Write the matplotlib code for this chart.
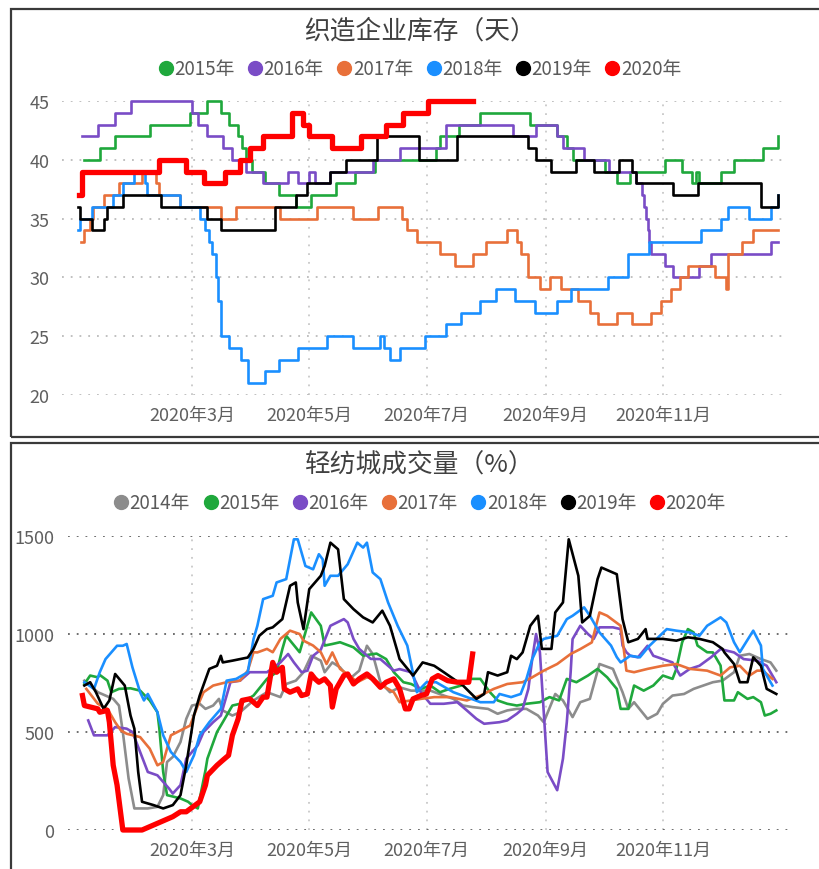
import matplotlib
matplotlib.use('Agg')
import matplotlib.pyplot as plt
from matplotlib.lines import Line2D
from matplotlib.patches import Rectangle

plt.rcParams['font.family'] = ['Noto Sans CJK SC', 'DejaVu Sans']
plt.rcParams['lines.scale_dashes'] = False

# x values are day of year 2020 (0 = 1 Jan)
month_days = [60, 121, 182, 244, 305]
month_labels = ['2020年3月', '2020年5月', '2020年7月', '2020年9月', '2020年11月']

inv_title = '织造企业库存（天）'
vol_title = '轻纺城成交量（%）'
inv_ticks = [20, 25, 30, 35, 40, 45]
vol_ticks = [0, 500, 1000, 1500]

years = ['2014年', '2015年', '2016年', '2017年', '2018年', '2019年', '2020年']
colors = ['#8c8c8c', '#1fa83c', '#7a4cc6', '#e8703a', '#1a8fff', '#000000', '#ff0000']

# ---- 织造企业库存 (days), step changes: (day, level) ----
inv_2015 = [(4, 40), (12, 41), (20, 42), (38, 43), (59, 44), (68, 45), (75, 44), (79, 43), (84, 42),
            (86, 41), (88, 40), (91, 39), (98, 38), (105, 37), (114, 36), (122, 37), (135, 38), (145, 39),
            (155, 40), (187, 41), (189, 42), (199, 43), (210, 44), (236, 43), (250, 42), (255, 41),
            (258, 40), (275, 39), (281, 38), (288, 39), (306, 40), (315, 39), (320, 38), (322, 39),
            (324, 38), (335, 39), (342, 40), (357, 41), (365, 42)]
inv_2016 = [(3, 42), (11, 43), (20, 44), (28, 45), (60, 44), (63, 43), (68, 42), (76, 41), (81, 40),
            (88, 39), (97, 38), (110, 39), (115, 38), (121, 39), (124, 38), (132, 39), (154, 40),
            (168, 41), (192, 43), (227, 42), (239, 43), (250, 42), (253, 41), (264, 40), (277, 39),
            (291, 38), (294, 37), (295, 36), (296, 35), (297, 34), (298, 33), (299, 32), (306, 31),
            (310, 30), (324, 31), (330, 32), (361, 33), (365, 33)]
inv_2017 = [(2, 33), (4, 34), (7, 35), (8.5, 36), (14, 37), (22, 38), (34, 39), (41, 38), (43, 37),
            (54, 36), (75, 35), (83, 36), (106, 35), (125, 36), (144, 35), (157, 36), (169, 35),
            (172, 34), (177, 33), (189, 32), (197, 31), (206, 32), (213, 33), (224, 34), (229, 33),
            (231, 32), (235, 30), (241, 29), (246, 30), (252, 29), (261, 28), (267, 27), (271, 26),
            (281, 27), (289, 26), (299, 27), (304, 28), (309, 29), (314, 30), (318, 31), (332, 30),
            (338, 29), (339, 32), (346, 33), (352, 34), (365, 34)]
inv_2018 = [(0.7, 34), (1.7, 35), (8, 36), (19, 37), (24, 38), (30, 39), (35.5, 38), (36.6, 37),
            (54, 36), (64, 35), (67, 34), (69, 33), (70.4, 32), (72.5, 30), (73.5, 28), (75, 25),
            (79, 24), (85.5, 23), (89, 21), (98, 22), (105, 23), (115, 24), (130, 25), (144, 24),
            (158, 25), (160, 24), (163, 23), (168, 24), (181, 25), (192, 26), (200, 27), (210, 28),
            (218, 29), (228, 28), (238.5, 27), (250, 28), (257, 29), (276.5, 30), (287, 32),
            (298, 33), (325, 34), (335, 35), (339, 36), (350, 35), (361, 36), (365, 37)]
inv_2019 = [(0.7, 36), (1.7, 35), (8, 34), (14, 35), (16, 36), (24, 37), (44, 36), (68, 35), (75, 34),
            (103, 36), (114, 37), (120, 38), (132, 39), (140, 40), (156, 42), (178, 40), (198, 42),
            (235, 41), (239, 40), (247, 39), (260, 40), (269, 39), (282, 40), (289, 39), (291, 38),
            (310, 37), (323, 38), (356, 36), (361, 36), (365, 37)]
inv_2020 = [(1, 37), (3, 39), (43, 40), (57, 39), (66, 38), (77, 39), (85, 40), (90, 41), (97, 42),
            (112, 44), (118, 43), (121, 42), (133, 41), (148, 42), (161, 43), (170, 44), (183, 45),
            (206, 45)]

# ---- 轻纺城成交量 (%): (day, value) ----
vol_2014 = [(4, 762), (7, 737), (11, 703), (19, 669), (22, 635), (24, 500), (27, 263), (30, 110),
            (37, 110), (42, 118), (45, 178), (47, 347), (50, 373), (54, 449), (57, 567), (60, 635),
            (64, 644), (67, 618), (71, 635), (74, 669), (76, 610), (81, 584), (85, 601), (92, 661),
            (99, 703), (106, 678), (109, 745), (114, 762), (118, 805), (122, 889), (127, 864),
            (129, 805), (133, 855), (137, 830), (142, 771), (147, 813), (151, 940), (154, 898),
            (158, 754), (163, 703), (168, 728), (174, 711), (184, 711), (191, 686), (196, 669),
            (201, 635), (206, 627), (214, 618), (219, 593), (224, 610), (229, 618), (234, 618),
            (240, 584), (243, 550), (249, 694), (253, 661), (258, 576), (262, 652), (267, 669),
            (272, 847), (279, 822), (284, 703), (287, 618), (290, 652), (297, 567), (302, 593),
            (305, 644), (310, 686), (316, 694), (321, 720), (326, 737), (331, 754), (336, 762),
            (342, 805), (345, 889), (350, 898), (356, 872), (361, 855), (364, 813)]
vol_2015 = [(4, 745), (7, 788), (11, 779), (12, 791), (16, 762), (18, 703), (22, 720), (28, 723),
            (33, 711), (38, 661), (42, 601), (43, 517), (45, 296), (47, 178), (54, 161), (58, 144),
            (60, 127), (63, 110), (67, 305), (68, 364), (73, 500), (76, 550), (81, 635), (85, 644),
            (92, 686), (99, 771), (104, 805), (107, 923), (109, 991), (116, 907), (122, 1110),
            (127, 1042), (129, 941), (133, 949), (137, 958), (144, 932), (149, 890), (156, 900),
            (161, 872), (165, 805), (170, 754), (174, 745), (179, 720), (184, 737), (189, 703),
            (194, 720), (200, 737), (205, 771), (210, 771), (215, 703), (219, 661), (224, 644),
            (229, 635), (234, 644), (241, 652), (246, 678), (251, 661), (255, 771), (260, 754),
            (266, 788), (271, 822), (276, 779), (281, 720), (283, 618), (287, 618), (290, 737),
            (295, 711), (300, 737), (305, 788), (310, 771), (312, 822), (315, 957), (318, 1025),
            (321, 1008), (323, 941), (328, 907), (331, 906), (335, 839), (337, 661), (342, 661),
            (344, 703), (349, 669), (352, 678), (356, 652), (358, 584), (361, 593), (364, 610)]
vol_2016 = [(6, 559), (9, 483), (16, 483), (20, 525), (26, 517), (29, 500), (33, 398), (37, 296),
            (42, 279), (48, 212), (50, 186), (54, 229), (57, 364), (63, 432), (66, 500), (71, 550),
            (75, 584), (80, 754), (85, 762), (90, 805), (99, 805), (106, 855), (110, 898), (113, 855),
            (117, 805), (120, 813), (123, 889), (127, 920), (132, 1042), (139, 1076), (141, 1059),
            (144, 975), (147, 924), (153, 873), (158, 872), (162, 838), (165, 813), (168, 821),
            (174, 805), (179, 703), (184, 644), (191, 644), (198, 652), (203, 610), (208, 567),
            (212, 542), (220, 550), (224, 559), (229, 593), (232, 618), (235, 720), (237, 872),
            (239, 1000), (241, 907), (245, 296), (250, 203), (253, 364), (255, 550), (257, 805),
            (258, 974), (262, 1042), (266, 1000), (269, 975), (272, 1034), (279, 1034), (283, 1025),
            (284, 941), (286, 907), (288, 889), (292, 881), (297, 940), (300, 889), (305, 872),
            (310, 855), (314, 788), (319, 822), (324, 838), (330, 881), (335, 923), (342, 906),
            (347, 872), (354, 864), (359, 838), (364, 754)]
vol_2017 = [(5, 720), (11, 644), (16, 618), (20, 550), (23, 508), (26, 491), (33, 474), (38, 415),
            (42, 330), (45, 347), (49, 483), (54, 508), (59, 533), (63, 635), (66, 703), (71, 737),
            (78, 754), (85, 762), (89, 813), (92, 907), (94, 906), (99, 924), (102, 907), (106, 975),
            (111, 1017), (116, 1000), (118, 966), (123, 941), (127, 907), (130, 847), (133, 906),
            (137, 822), (142, 788), (146, 754), (151, 779), (154, 771), (159, 737), (165, 703),
            (168, 652), (179, 669), (186, 678), (194, 678), (203, 661), (210, 686), (217, 720),
            (224, 745), (232, 754), (237, 779), (243, 813), (250, 847), (257, 898), (262, 923),
            (268, 957), (272, 1110), (276, 1093), (283, 1042), (284, 975), (286, 813), (290, 805),
            (297, 822), (305, 838), (312, 847), (319, 822), (328, 813), (335, 788), (340, 830),
            (345, 838), (350, 788), (354, 813), (357, 813), (362, 771)]
vol_2018 = [(4, 754), (9, 720), (12, 805), (15, 872), (21, 940), (24, 940), (26, 949), (29, 830),
            (33, 703), (35, 661), (37, 694), (42, 601), (45, 483), (49, 398), (54, 347), (57, 296),
            (61, 381), (64, 483), (69, 550), (75, 618), (78, 762), (83, 771), (89, 805), (92, 974),
            (94, 1042), (97, 1178), (102, 1195), (104, 1263), (109, 1280), (113, 1483), (115, 1483),
            (119, 1347), (123, 1330), (126, 1407), (128, 1381), (129, 1246), (132, 1297), (136, 1297),
            (141, 1356), (146, 1466), (149, 1441), (151, 1466), (154, 1314), (158, 1280), (162, 1161),
            (167, 1042), (172, 941), (177, 703), (182, 754), (187, 754), (196, 703), (203, 678),
            (210, 652), (217, 652), (220, 694), (226, 678), (231, 694), (234, 771), (237, 872),
            (241, 957), (243, 975), (250, 991), (255, 1076), (258, 1093), (264, 1136), (267, 1093),
            (272, 1008), (278, 941), (281, 882), (283, 855), (288, 889), (293, 881), (298, 940),
            (307, 1025), (312, 1017), (319, 1008), (324, 991), (328, 1042), (335, 1085), (338, 1059),
            (342, 958), (345, 907), (352, 1017), (356, 941), (357, 822), (362, 737)]
vol_2019 = [(4, 737), (7, 754), (10, 703), (14, 618), (17, 661), (20, 796), (25, 737), (28, 584),
            (30, 517), (32, 296), (34, 144), (40, 127), (45, 110), (50, 127), (54, 178), (57, 330),
            (61, 584), (64, 686), (69, 822), (73, 838), (75, 889), (76, 855), (81, 864), (89, 880),
            (92, 924), (95, 991), (99, 1025), (102, 1034), (107, 1076), (111, 1246), (114, 1263),
            (115, 1161), (118, 1025), (121, 1229), (127, 1297), (129, 1347), (132, 1466), (136, 1432),
            (139, 1178), (144, 1127), (149, 1085), (154, 1059), (159, 1119), (163, 1042), (167, 907),
            (168, 872), (175, 788), (180, 855), (186, 838), (191, 805), (196, 771), (201, 737),
            (208, 669), (212, 694), (214, 805), (219, 788), (224, 805), (226, 889), (229, 872),
            (232, 906), (234, 974), (236, 1042), (240, 1093), (242, 924), (247, 924), (249, 1110),
            (253, 1161), (256, 1483), (261, 1297), (263, 1059), (267, 1093), (271, 1280), (273, 1339),
            (281, 1305), (284, 1076), (287, 958), (292, 975), (296, 1025), (297, 975), (305, 975),
            (312, 966), (318, 983), (324, 975), (331, 958), (336, 924), (337, 906), (342, 847),
            (345, 754), (349, 754), (352, 881), (356, 838), (359, 720), (364, 694)]
vol_2020 = [(3, 686), (4, 635), (11, 618), (12, 601), (16, 610), (17, 550), (19, 330), (21, 229),
            (24, 0), (34, 0), (42, 34), (50, 68), (54, 93), (57, 93), (64, 144), (67, 229), (68, 279),
            (73, 330), (76, 356), (79, 381), (81, 483), (84, 567), (86, 661), (90, 669), (94, 635),
            (97, 678), (99, 678), (102, 855), (104, 805), (107, 830), (108, 720), (111, 703),
            (115, 720), (117, 686), (120, 694), (122, 796), (124, 771), (126, 754), (129, 771),
            (132, 737), (133, 627), (135, 720), (139, 788), (141, 796), (144, 745), (147, 771),
            (151, 796), (154, 771), (158, 728), (161, 754), (165, 771), (168, 720), (171, 618),
            (173, 618), (175, 669), (179, 686), (182, 694), (185, 771), (188, 788), (193, 762),
            (198, 754), (204, 754), (206, 898)]

inv_series = [inv_2015, inv_2016, inv_2017, inv_2018, inv_2019, inv_2020]
vol_series = [vol_2014, vol_2015, vol_2016, vol_2017, vol_2018, vol_2019, vol_2020]

W, H = 820, 870
fig = plt.figure(figsize=(8.2, 8.7), dpi=100)

# panel frames
for top, bot in [(10, 438), (444, 880)]:
    fig.patches.append(Rectangle((11 / W, 1 - bot / H), 1.0, (bot - top) / H, transform=fig.transFigure,
                                 fill=False, edgecolor='#3a3a3a', linewidth=1.6))

tick_col = '#5f5f5f'


def setup(ax, yticks, hcol, ypad):
    for s in ax.spines.values():
        s.set_visible(False)
    ax.set_yticks(yticks)
    ax.set_xticks(month_days)
    ax.set_xticklabels(month_labels)
    ax.tick_params(length=0, labelsize=13, colors=tick_col)
    ax.tick_params(axis='y', pad=ypad)
    ax.tick_params(axis='x', pad=8)
    ax.grid(axis='y', linestyle=(0, (1.3, 5)), color=hcol, linewidth=1.2)
    ax.grid(axis='x', linestyle=(0, (1.3, 5)), color='#c4c4c4', linewidth=1.2)
    ax.set_axisbelow(True)


# top chart
ax1 = fig.add_axes([62 / W, 1 - 396 / H, (787 - 62) / W, 294 / H])
setup(ax1, inv_ticks, '#b5b5b5', 9)
ax1.set_xlim((62 - 76.7) / 1.922, (787 - 76.7) / 1.922)
ax1.set_ylim(20, 45)
for pts, c in zip(inv_series, colors[1:]):
    d = [p[0] for p in pts]
    v = [p[1] for p in pts]
    lw = 3.8 if c == '#ff0000' else 1.9
    ax1.plot(d, v, color=c, lw=lw, drawstyle='steps-post', clip_on=False)

# bottom chart
ax2 = fig.add_axes([68 / W, 1 - 831 / H, (790 - 68) / W, 294 / H])
setup(ax2, vol_ticks, '#555555', 10)
ax2.set_xlim((68 - 76.7) / 1.922, (790 - 76.7) / 1.922)
ax2.set_ylim(0, 1500)
for pts, c in zip(vol_series, colors):
    d = [p[0] for p in pts]
    v = [p[1] for p in pts]
    lw = 3.8 if c == '#ff0000' else 1.9
    ax2.plot(d, v, color=c, lw=lw, clip_on=False, solid_joinstyle='round')

# titles
fig.text(0.512, 1 - 32 / H, inv_title, ha='center', va='center', fontsize=18.5, color='#404040')
fig.text(0.512, 1 - 466 / H, vol_title, ha='center', va='center', fontsize=18.5, color='#404040')

# legends
for labels, cols, ypix in [(years[1:], colors[1:], 70), (years, colors, 504)]:
    handles = [Line2D([], [], marker='o', linestyle='', color=c, markersize=10) for c in cols]
    fig.legend(handles, labels, loc='center', bbox_to_anchor=(0.513, 1 - ypix / H), ncol=len(labels),
               frameon=False, handlelength=0.6, handletextpad=0.15, columnspacing=0.8,
               fontsize=13.5, labelcolor='#5a5a5a', borderaxespad=0)

fig.savefig('out.png', dpi=100)
